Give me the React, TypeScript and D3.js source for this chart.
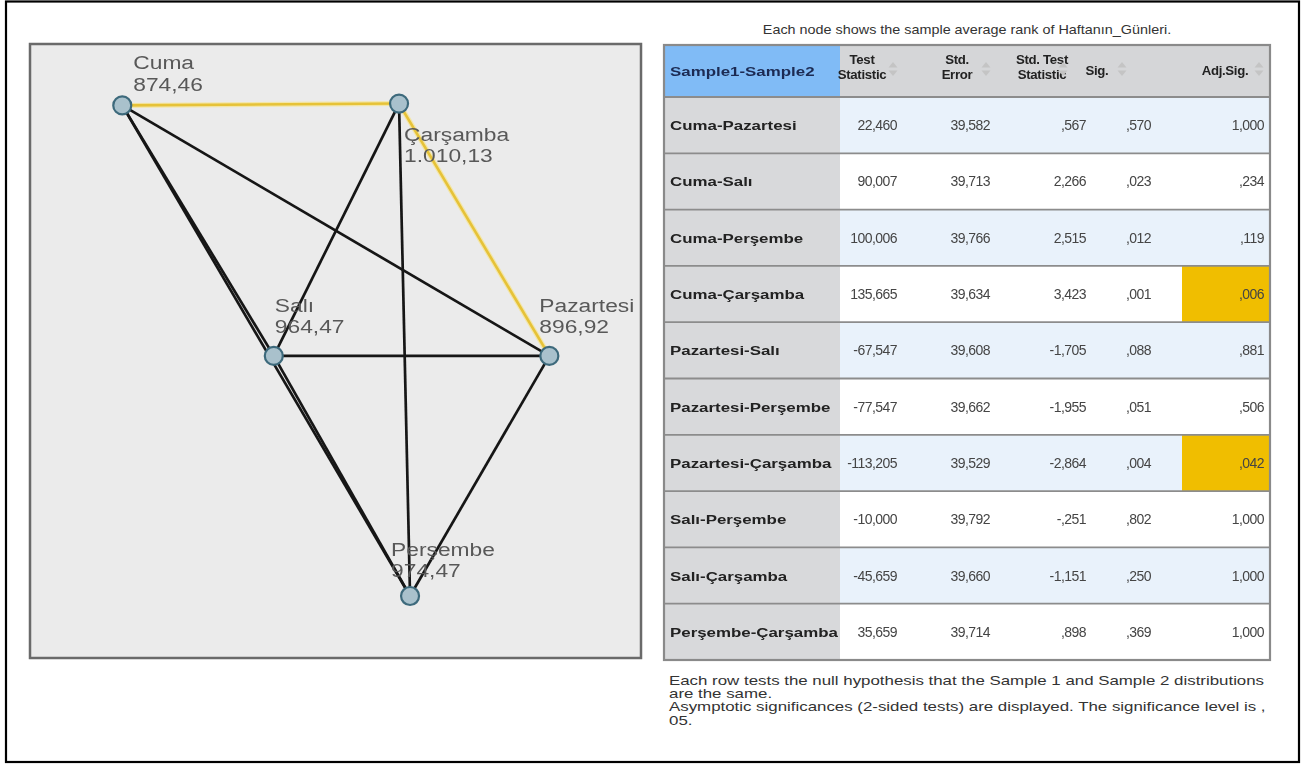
import React from "react";
import * as d3 from "d3";

// ---- Data ----
const nodeNames = ["Cuma", "Çarşamba", "Salı", "Pazartesi", "Perşembe"];
const nodeRanks = [874.46, 1010.13, 964.47, 896.92, 974.47];
// layout coordinates of the network (0..100 units within the panel)
const nodeLayoutX = [15.1, 60.4, 39.9, 85.0, 62.2];
const nodeLayoutY = [10.0, 9.7, 50.8, 50.8, 89.9];
const labelDx = [11, 5, 1, -10, -19];
const labelDy = [-36, 37, -44, -44, -40];

const pairs = [
  "Cuma-Pazartesi",
  "Cuma-Salı",
  "Cuma-Perşembe",
  "Cuma-Çarşamba",
  "Pazartesi-Salı",
  "Pazartesi-Perşembe",
  "Pazartesi-Çarşamba",
  "Salı-Perşembe",
  "Salı-Çarşamba",
  "Perşembe-Çarşamba",
];
const testStatistic = [22.46, 90.007, 100.006, 135.665, -67.547, -77.547, -113.205, -10.0, -45.659, 35.659];
const stdError = [39.582, 39.713, 39.766, 39.634, 39.608, 39.662, 39.529, 39.792, 39.66, 39.714];
const stdTestStatistic = [0.567, 2.266, 2.515, 3.423, -1.705, -1.955, -2.864, -0.251, -1.151, 0.898];
const sig = [0.57, 0.023, 0.012, 0.001, 0.088, 0.051, 0.004, 0.802, 0.25, 0.369];
const adjSig = [1.0, 0.234, 0.119, 0.006, 0.881, 0.506, 0.042, 1.0, 1.0, 1.0];

const headerLabels = [
  ["Test", "Statistic"],
  ["Std.", "Error"],
  ["Std. Test", "Statistic"],
  ["Sig."],
  ["Adj.Sig."],
];
const titleText = "Each node shows the sample average rank of Haftanın_Günleri.";
const footLines = [
  "Each row tests the null hypothesis that the Sample 1 and Sample 2 distributions",
  "are the same.",
  "Asymptotic significances (2-sided tests) are displayed. The significance level is ,",
  "05.",
];
const alpha = 0.05;

// ---- helpers ----
const trLocale = d3.formatLocale({ decimal: ",", thousands: ".", grouping: [3], currency: ["", ""] });
const fmtRank = trLocale.format(",.2f");
const fmt3 = (v: number) => {
  let s = d3.format(".3f")(v).replace("−", "-").replace(".", ",");
  s = s.replace(/^(-?)0,/, "$1,");
  return s;
};

const FONT = "'Liberation Sans', Arial, Helvetica, sans-serif";

export default function App() {
  // network panel
  const panel = { x: 30, y: 44, w: 611, h: 614 };
  const sx = d3.scaleLinear().domain([0, 100]).range([panel.x, panel.x + panel.w]);
  const sy = d3.scaleLinear().domain([0, 100]).range([panel.y, panel.y + panel.h]);
  const nodes = nodeNames.map((n, i) => ({
    name: n,
    rank: nodeRanks[i],
    x: sx(nodeLayoutX[i]),
    y: sy(nodeLayoutY[i]),
    dx: labelDx[i],
    dy: labelDy[i],
  }));
  const byName = new Map(nodes.map((n) => [n.name, n]));
  const edges = pairs.map((p, i) => {
    const [a, b] = p.split("-");
    return { s: byName.get(a)!, t: byName.get(b)!, sig: adjSig[i] < alpha };
  });
  const line = d3.line<[number, number]>();

  // table
  const tX0 = 664, tX1 = 1270, tY0 = 45, hdrY1 = 97, tY1 = 660;
  const col1 = 840;
  const rowScale = d3.scaleBand<number>().domain(d3.range(pairs.length)).range([hdrY1, tY1]);
  const colRight = [897, 990, 1086, 1151, 1264];
  const hdrCenter = [862, 957, 1042, 1097, 1225];
  const iconX = [893, 986, 1063, 1122, 1259];
  const hlX0 = 1182;
  const columns = [testStatistic, stdError, stdTestStatistic, sig, adjSig];

  const sortIcon = (x: number, y: number, key: string) => (
    <g key={key} fill="#c4c4c4">
      <path d={`M${x - 4.5},${y - 1.5} L${x + 4.5},${y - 1.5} L${x},${y - 7} Z`} />
      <path d={`M${x - 4.5},${y + 1.5} L${x + 4.5},${y + 1.5} L${x},${y + 7} Z`} />
    </g>
  );

  return (
    <svg
      width={1306}
      height={765}
      style={{ position: "absolute", left: 0, top: 0, background: "#fff" }}
      fontFamily={FONT}
    >
      <defs>
        <clipPath id="panelClip">
          <rect x={panel.x} y={panel.y} width={panel.w} height={panel.h} />
        </clipPath>
        <filter id="soft" x="-5%" y="-5%" width="110%" height="110%">
          <feGaussianBlur stdDeviation="0.45" />
        </filter>
      </defs>
      <rect x={0} y={0} width={1306} height={765} fill="#fff" />
      {/* outer frame */}
      <rect x={6} y={1.5} width={1293} height={760.5} fill="none" stroke="#000" strokeWidth={2.2} />

      {/* network panel */}
      <g filter="url(#soft)">
        <rect x={panel.x} y={panel.y} width={panel.w} height={panel.h} fill="#ebebeb" stroke="#6a6a6a" strokeWidth={2.5} />
        <g clipPath="url(#panelClip)">
          {edges
            .filter((e) => !e.sig)
            .map((e, i) => (
              <path
                key={"e" + i}
                d={line([[e.s.x, e.s.y], [e.t.x, e.t.y]]) || ""}
                stroke="#161616"
                strokeWidth={2.7}
                fill="none"
              />
            ))}
          {edges
            .filter((e) => e.sig)
            .map((e, i) => (
              <g key={"y" + i}>
                <path d={line([[e.s.x, e.s.y], [e.t.x, e.t.y]]) || ""} stroke="#f3e6a8" strokeWidth={5} fill="none" />
                <path d={line([[e.s.x, e.s.y], [e.t.x, e.t.y]]) || ""} stroke="#e6c238" strokeWidth={2.6} fill="none" />
              </g>
            ))}
          {nodes.map((n) => (
            <g key={n.name}>
              <circle cx={n.x} cy={n.y} r={9} fill="#a9c1cc" stroke="#3e6a7c" strokeWidth={2.2} />
            </g>
          ))}
          {nodes.map((n) => (
            <g key={"l" + n.name} transform={`translate(${n.x + n.dx},${n.y + n.dy}) scale(1.2,1)`}>
              <text x={0} y={0} fontSize={19} fill="#595959">
                <tspan x={0}>{n.name}</tspan>
                <tspan x={0} dy={21.5}>
                  {fmtRank(n.rank)}
                </tspan>
              </text>
            </g>
          ))}
        </g>
      </g>

      {/* title */}
      <g transform={`translate(967,34) scale(1.15,1)`}>
        <text x={0} y={0} fontSize={12.5} fill="#333" textAnchor="middle">
          {titleText}
        </text>
      </g>

      {/* table */}
      <g filter="url(#soft)">
        {/* header */}
        <rect x={tX0} y={tY0} width={col1 - tX0} height={hdrY1 - tY0} fill="#80bbf6" />
        <rect x={col1} y={tY0} width={tX1 - col1} height={hdrY1 - tY0} fill="#d5d6d8" />
        <g transform={`translate(670,76) scale(1.3,1)`}>
          <text x={0} y={0} fontSize={13} fontWeight="bold" fill="#1b2a52">
            Sample1-Sample2
          </text>
        </g>
        {headerLabels.map((lbl, j) =>
          lbl.length === 2 ? (
            <text key={"h" + j} x={hdrCenter[j]} y={64} fontSize={13.2} fontWeight="bold" fill="#222" textAnchor="middle" letterSpacing={-0.3}>
              <tspan x={hdrCenter[j]}>{lbl[0]}</tspan>
              <tspan x={hdrCenter[j]} dy={14.5}>
                {lbl[1]}
              </tspan>
            </text>
          ) : (
            <text key={"h" + j} x={hdrCenter[j]} y={75} fontSize={13.2} fontWeight="bold" fill="#222" textAnchor="middle" letterSpacing={-0.3}>
              {lbl[0]}
            </text>
          )
        )}
        {iconX.map((x, j) => sortIcon(x, 69, "ic" + j))}

        {/* rows */}
        {pairs.map((p, i) => {
          const y = rowScale(i)!;
          const h = rowScale.bandwidth();
          const cy = y + h / 2 + 5;
          return (
            <g key={"r" + i}>
              <rect x={tX0} y={y} width={col1 - tX0} height={h} fill="#d8d9db" />
              <rect x={col1} y={y} width={tX1 - col1} height={h} fill={i % 2 === 0 ? "#e9f2fb" : "#ffffff"} />
              {adjSig[i] < alpha && <rect x={hlX0} y={y} width={tX1 - hlX0} height={h} fill="#f0be00" />}
              <g transform={`translate(670,${cy}) scale(1.32,1)`}>
                <text x={0} y={0} fontSize={12.8} fontWeight="bold" fill="#222">
                  {p}
                </text>
              </g>
              {columns.map((col, j) => (
                <text key={"c" + j} x={colRight[j]} y={cy} fontSize={14} fill="#444" textAnchor="end" letterSpacing={-0.55}>
                  {fmt3(col[i])}
                </text>
              ))}
            </g>
          );
        })}
        {/* row separators */}
        {pairs.map((p, i) =>
          i === 0 ? null : (
            <line key={"s" + i} x1={tX0} x2={tX1} y1={rowScale(i)} y2={rowScale(i)} stroke="#8c8c8c" strokeWidth={1.8} />
          )
        )}
        <line x1={tX0} x2={tX1} y1={hdrY1} y2={hdrY1} stroke="#8c8c8c" strokeWidth={2.2} />
        <rect x={tX0} y={tY0} width={tX1 - tX0} height={tY1 - tY0} fill="none" stroke="#8a8a8a" strokeWidth={2.2} />
      </g>

      {/* footnote */}
      <g transform={`translate(669,0) scale(1.25,1)`}>
        <text fontSize={13.5} fill="#333">
          {footLines.map((l, i) => (
            <tspan key={i} x={0} y={685 + i * 13.2}>
              {l}
            </tspan>
          ))}
        </text>
      </g>
    </svg>
  );
}
